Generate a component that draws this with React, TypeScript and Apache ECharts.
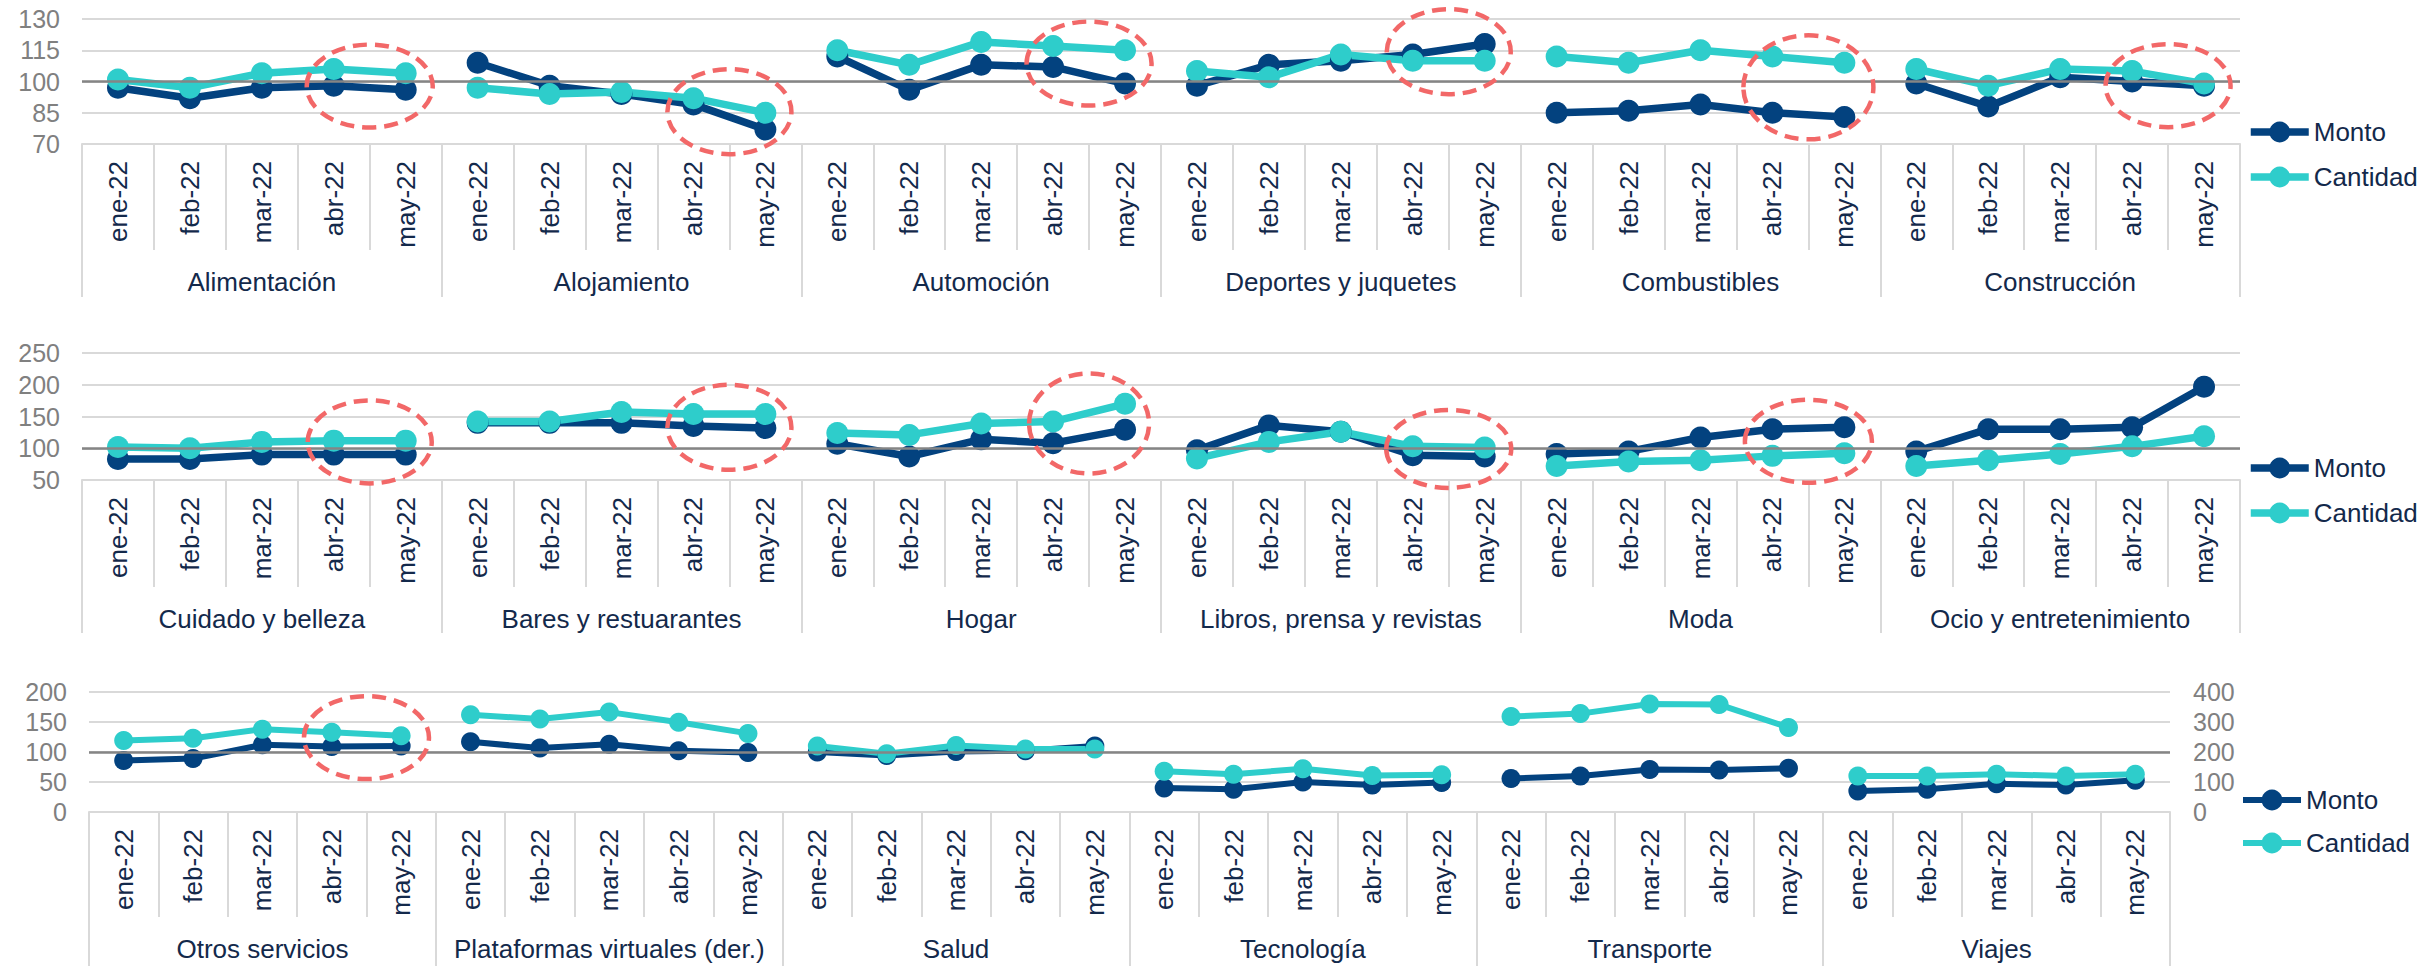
import React, { useEffect, useRef } from 'react';
import * as echarts from 'echarts';

// ---------- DATA ----------
const months = ['ene-22', 'feb-22', 'mar-22', 'abr-22', 'may-22'];

const groups1 = ['Alimentación', 'Alojamiento', 'Automoción', 'Deportes y juquetes', 'Combustibles', 'Construcción'];
const monto1 = [
  [97, 92, 97, 98, 96],
  [109, 98, 94, 89, 77],
  [112, 96, 108, 107, 99],
  [98, 108, 110, 113, 118],
  [85, 86, 89, 85, 83],
  [99, 88, 102, 100, 98],
];
const cantidad1 = [
  [101, 97, 104, 106, 104],
  [97, 94, 95, 92, 85],
  [115, 108, 119, 117, 115],
  [105, 102, 113, 110, 110],
  [112, 109, 115, 112, 109],
  [106, 98, 106, 105, 99],
];

const groups2 = ['Cuidado y belleza', 'Bares y restuarantes', 'Hogar', 'Libros, prensa y revistas', 'Moda', 'Ocio y entretenimiento'];
const monto2 = [
  [83, 83, 90, 90, 90],
  [140, 140, 140, 135, 132],
  [107, 87, 114, 108, 129],
  [97, 136, 126, 89, 87],
  [91, 95, 117, 130, 133],
  [95, 130, 130, 133, 197],
];
const cantidad2 = [
  [102, 100, 110, 112, 112],
  [142, 142, 157, 154, 154],
  [124, 121, 139, 142, 170],
  [84, 110, 126, 103, 101],
  [72, 79, 81, 88, 92],
  [72, 81, 91, 103, 119],
];

const groups3 = ['Otros servicios', 'Plataformas virtuales (der.)', 'Salud', 'Tecnología', 'Transporte', 'Viajes'];
// Plataformas virtuales is read on the right axis (der.)
const monto3 = [
  [86, 89, 112, 109, 110],
  [234, 213, 226, 204, 198],
  [100, 94, 101, 102, 110],
  [40, 38, 50, 45, 49],
  [56, 60, 71, 70, 73],
  [35, 38, 47, 45, 53],
];
const cantidad3 = [
  [119, 123, 138, 133, 127],
  [324, 310, 333, 299, 262],
  [110, 97, 111, 105, 105],
  [68, 63, 72, 61, 62],
  [159, 164, 180, 179, 141],
  [60, 60, 63, 60, 63],
];
const rightAxisGroups3 = [1];

// highlighted (abr-may) groups and the value at the centre of each highlight
const ellipseGroups1 = [0, 1, 2, 3, 4, 5];
const ellipseCenters1 = [97.8, 85.5, 108.6, 114.3, 97.2, 98];
const ellipseGroups2 = [0, 1, 2, 3, 4];
const ellipseCenters2 = [110, 133, 139, 99, 111];
const ellipseGroups3 = [0];
const ellipseCenters3 = [124];

// ---------- STYLE ----------
const ellipseSizes1 = [[126, 83], [124, 85], [125, 84], [124, 85], [130, 104], [125, 83]];
const ellipseSizes2 = [[124, 83], [124, 85], [120, 100], [125, 78], [127, 83]];
const ellipseSizes3 = [[125, 83]];

const NAVY_TEXT = '#13294B';
const MONTO_C = '#03427F';
const CANT_C = '#2ECDCB';
const GRID_C = '#D9D9D9';
const AXIS_TXT = '#808080';
const RED = '#F26868';
const FONT = 'Liberation Sans, Arial, sans-serif';

const rows = [
  {
    groups: groups1, monto: monto1, cantidad: cantidad1, rightGroups: [] as number[],
    eg: ellipseGroups1, ec: ellipseCenters1, es: ellipseSizes1,
    top: 19, height: 125, left: 82, right: 195, monthH: 106, groupH: 47,
    lineW: 7.5, sym: 22, y: { min: 70, max: 130, interval: 15 }, right2: null as any,
    legendTop: 112, legendGap: 15, legendLeft: 2242,
  },
  {
    groups: groups2, monto: monto2, cantidad: cantidad2, rightGroups: [] as number[],
    eg: ellipseGroups2, ec: ellipseCenters2, es: ellipseSizes2,
    top: 353, height: 127, left: 82, right: 195, monthH: 107, groupH: 46,
    lineW: 7.5, sym: 22, y: { min: 50, max: 250, interval: 50 }, right2: null as any,
    legendTop: 448, legendGap: 15, legendLeft: 2242,
  },
  {
    groups: groups3, monto: monto3, cantidad: cantidad3, rightGroups: rightAxisGroups3,
    eg: ellipseGroups3, ec: ellipseCenters3, es: ellipseSizes3,
    top: 692, height: 120, left: 89, right: 265, monthH: 105, groupH: 49,
    lineW: 6, sym: 19, y: { min: 0, max: 200, interval: 50 }, right2: { min: 0, max: 400, interval: 100 },
    legendTop: 780, legendGap: 13, legendLeft: 2235,
  },
];

function buildOption() {
  const grid: any[] = [];
  const xAxis: any[] = [];
  const yAxis: any[] = [];
  const series: any[] = [];
  const legend: any[] = [];

  rows.forEach((row, r) => {
    grid.push({ left: row.left, right: row.right, top: row.top, height: row.height });

    const monthIdx = xAxis.length;
    const cats = row.groups.flatMap((g, gi) => months.map((m) => gi + '|' + m));
    xAxis.push({
      type: 'category', gridIndex: r, position: 'bottom', data: cats,
      axisLine: { show: true, onZero: false, lineStyle: { color: GRID_C, width: 2 } },
      axisTick: { show: true, interval: 0, length: row.monthH, lineStyle: { color: GRID_C, width: 2 } },
      axisLabel: {
        interval: 0, rotate: 90, margin: 17, fontSize: 26, color: NAVY_TEXT, fontFamily: FONT,
        formatter: (v: string) => v.split('|')[1],
      },
      splitLine: { show: false },
    });
    xAxis.push({
      type: 'category', gridIndex: r, position: 'bottom', offset: row.monthH, data: row.groups,
      axisLine: { show: false, onZero: false },
      axisTick: { show: true, interval: 0, length: row.groupH, lineStyle: { color: GRID_C, width: 2 } },
      axisLabel: { interval: 0, margin: 19, fontSize: 26, color: NAVY_TEXT, fontFamily: FONT },
      splitLine: { show: false },
    });

    const leftIdx = yAxis.length;
    yAxis.push({
      type: 'value', gridIndex: r, position: 'left',
      min: row.y.min, max: row.y.max, interval: row.y.interval,
      axisLine: { show: false }, axisTick: { show: false },
      axisLabel: { margin: 22, fontSize: 25, color: AXIS_TXT, fontFamily: FONT },
      splitLine: { show: true, lineStyle: { color: GRID_C, width: 2 } },
    });
    let rightIdx = leftIdx;
    if (row.right2) {
      rightIdx = yAxis.length;
      yAxis.push({
        type: 'value', gridIndex: r, position: 'right',
        min: row.right2.min, max: row.right2.max, interval: row.right2.interval,
        axisLine: { show: false }, axisTick: { show: false },
        axisLabel: { margin: 23, fontSize: 25, color: AXIS_TXT, fontFamily: FONT },
        splitLine: { show: false },
      });
    }

    const mk = (name: string, color: string, vals: number[][], withRef: boolean) => {
      vals.forEach((gv, gi) => {
        const data: (number | null)[] = new Array(30).fill(null);
        gv.forEach((v, mi) => { data[gi * 5 + mi] = v; });
        const s: any = {
          type: 'line', name, xAxisIndex: monthIdx,
          yAxisIndex: row.rightGroups.includes(gi) ? rightIdx : leftIdx,
          data, symbol: 'circle', symbolSize: row.sym, showSymbol: true, showAllSymbol: true,
          connectNulls: false, silent: true,
          lineStyle: { color, width: row.lineW },
          itemStyle: { color },
          emphasis: { disabled: true },
        };
        if (withRef && gi === 0) {
          s.markLine = {
            silent: true, symbol: ['none', 'none'], label: { show: false },
            lineStyle: { color: '#858585', width: 2.5, type: 'solid' },
            data: [{ yAxis: 100 }],
          };
        }
        series.push(s);
      });
    };
    mk('Monto', MONTO_C, row.monto, true);
    mk('Cantidad', CANT_C, row.cantidad, false);

    series.push({
      type: 'custom', name: 'marca', xAxisIndex: monthIdx, yAxisIndex: leftIdx, silent: true, z: 10,
      data: row.eg.map((g, i) => [g, row.ec[i], row.es[i][0], row.es[i][1]]),
      encode: { x: 0, y: 1 },
      renderItem: (_p: any, api: any) => {
        const g = api.value(0) as number;
        const v = api.value(1) as number;
        const w = api.value(2) as number;
        const h = api.value(3) as number;
        const a = api.coord([g * 5 + 3, v]);
        const b = api.coord([g * 5 + 4, v]);
        return {
          type: 'ellipse',
          shape: { cx: (a[0] + b[0]) / 2, cy: a[1], rx: w / 2, ry: h / 2 },
          style: { fill: 'none', stroke: RED, lineWidth: 4.5, lineDash: [14, 8] },
        };
      },
    });

    legend.push({
      orient: 'vertical', left: row.legendLeft, top: row.legendTop,
      itemWidth: 58, itemHeight: 26, itemGap: row.legendGap, selectedMode: false,
      data: ['Monto', 'Cantidad'],
      lineStyle: { width: row.lineW },
      textStyle: { fontSize: 26, color: NAVY_TEXT, fontFamily: FONT, lineHeight: 30 },
    });
  });

  return { animation: false, backgroundColor: '#ffffff', grid, xAxis, yAxis, series, legend };
}

export default function App() {
  const ref = useRef<HTMLDivElement>(null);
  useEffect(() => {
    document.body.style.margin = '0';
    const chart = echarts.init(ref.current!, null, { renderer: 'svg' });
    chart.setOption(buildOption() as any);
    return () => chart.dispose();
  }, []);
  return <div ref={ref} style={{ width: 2435, height: 966 }} />;
}
